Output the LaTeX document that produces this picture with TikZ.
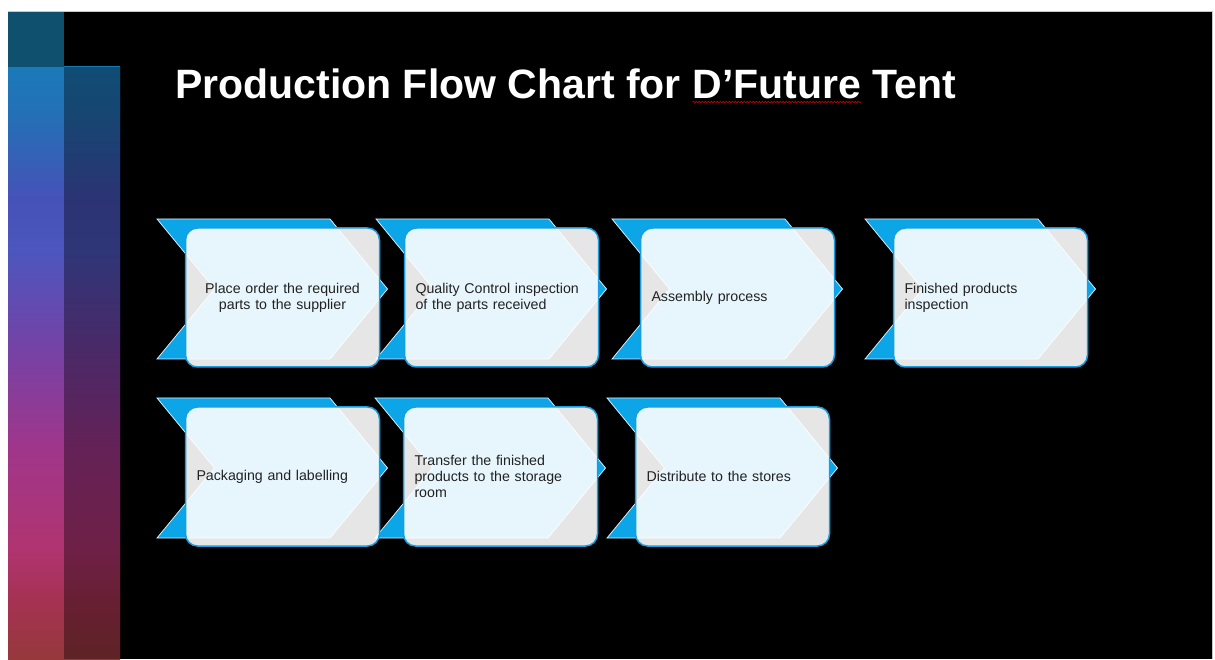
\documentclass[tikz,border=0pt]{standalone}
\usepackage{fontspec}
\setmainfont{Liberation Sans}
\usetikzlibrary{positioning,
                decorations.pathmorphing}

\definecolor{chevblue}{RGB}{12,166,232}
\definecolor{rimblue}{RGB}{24,158,222}
\definecolor{boxtext}{RGB}{34,34,34}
\definecolor{slidegrey}{RGB}{200,200,200}
\definecolor{barcap}{RGB}{16,80,111}
\definecolor{barA}{RGB}{150,56,60}
\definecolor{barB}{RGB}{165,50,82}
\definecolor{barC}{RGB}{176,52,112}
\definecolor{barD}{RGB}{160,54,138}
\definecolor{barE}{RGB}{118,66,165}
\definecolor{barF}{RGB}{76,86,190}
\definecolor{barG}{RGB}{70,82,184}
\definecolor{barH}{RGB}{38,110,182}
\definecolor{barI}{RGB}{26,122,184}

\pgfdeclareverticalshading{barshade}{100bp}{color(0bp)=(barA);
    color(25bp)=(barA); color(30bp)=(barB); color(34.2bp)=(barC);
    color(42.7bp)=(barD); color(51.1bp)=(barE); color(59.5bp)=(barF);
    color(63.8bp)=(barG); color(70.5bp)=(barH); color(75bp)=(barI);
    color(100bp)=(barI)}

\pgfdeclarelayer{back}
\pgfdeclarelayer{mid}
\pgfsetlayers{back,mid,main}

\tikzset{stepbox/.style =
   {rectangle,
    rounded corners=12pt,
    draw=rimblue,
    line width=1.5pt,
    fill=white,
    fill opacity=0.9,
    text opacity=1,
    text=boxtext,
    font=\fontsize{14.2}{16}\selectfont,
    text width=172pt,
    inner xsep=11pt,
    inner ysep=0pt,
    minimum width=194pt,
    minimum height=139pt,
    outer sep=0pt,
    align=left}}
\tikzset{chevron/.style =
   {fill=chevblue,
    draw=white!85!chevblue,
    line width=0.75pt,
    line join=miter}}
\tikzset{titletext/.style =
   {text=white,
    font=\fontsize{41}{48}\selectfont\bfseries,
    inner sep=0pt,
    anchor=base west}}
\tikzset{squiggle/.style =
   {draw=red!75!black,
    line width=0.6pt,
    decorate,
    decoration={snake, amplitude=0.8pt, segment length=3pt}}}

\begin{document}
\begin{tikzpicture}[x=1pt, y=1pt]

    \useasboundingbox (0,0) rectangle (1215,659);

    % slide and side bars
    \begin{pgfonlayer}{back}
        \fill [white] (0,0) rectangle (1215,659);
        \fill [black] (8,0) rectangle (1212,647);
        \draw [slidegrey, line width=1pt] (8,647) -- (1212,647) -- (1212,0);
        \shade [shading=barshade] (8,0) rectangle (120,592);
        \fill [black, opacity=0.37] (64,0) rectangle (120,592);
        \fill [barcap] (8,592) rectangle (64,647);
    \end{pgfonlayer}

    % title
    \node [titletext] (title) at (175,560) {Production Flow Chart for\ \null};
    \node [titletext] (titlename) at (title.base east) {D’Future};
    \node [titletext] (titleend) at (titlename.base east) {\ Tent};
    \draw [squiggle] ([yshift=-3pt]titlename.base west)
        -- ([yshift=-3pt]titlename.base east);

    % steps
    \node [stepbox,
           align=center] (place) at (282.5,361.5)
          {Place order the required\\parts to the supplier};

    \node [stepbox,
           right = 25pt of place] (quality)
          {Quality Control inspection\\of the parts received};

    \node [stepbox,
           right = 42pt of quality] (assembly)
          {Assembly process};

    \node [stepbox,
           right = 59pt of assembly] (finished)
          {Finished products\\inspection};

    \node [stepbox,
           below = 40pt of place] (packaging)
          {Packaging and labelling};

    \node [stepbox,
           right = 24pt of packaging] (transfer)
          {Transfer the finished\\products to the storage\\room};

    \node [stepbox,
           right = 38pt of transfer] (distribute)
          {Distribute to the stores};

    % chevrons behind the boxes
    \begin{pgfonlayer}{mid}
        \foreach \stage in {place, quality, assembly, finished,
                            packaging, transfer, distribute}
            \draw [chevron] ([xshift=-28.5pt, yshift=9pt]\stage.north west)
                -- ++(173,0) -- ++(57.5,-70) -- ++(-57.5,-70)
                -- ++(-173,0) -- ++(57.5,70) -- cycle;
    \end{pgfonlayer}

\end{tikzpicture}
\end{document}
